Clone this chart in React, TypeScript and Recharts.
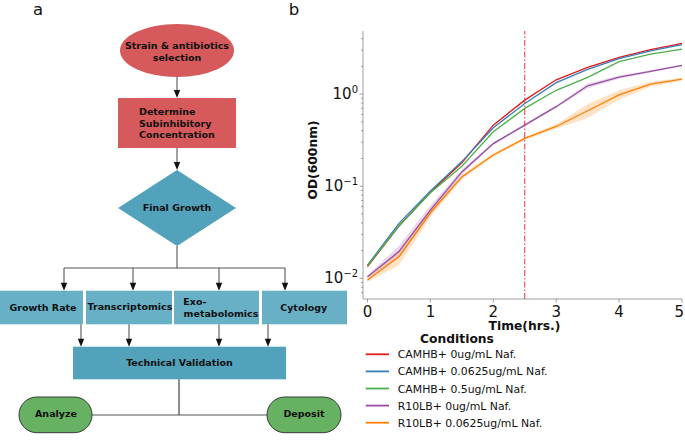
import React from 'react';
import { ComposedChart, Line, Area, XAxis, YAxis, ReferenceLine } from 'recharts';

// growth curves, OD600 on log scale
const time = [0, 0.5, 1, 1.5, 2, 2.5, 3, 3.5, 4, 4.5, 5];
const camhb0 = [0.0134, 0.037, 0.086, 0.18, 0.46, 0.86, 1.43, 1.95, 2.5, 3.03, 3.56];
const camhb0625 = [0.0139, 0.0395, 0.089, 0.185, 0.43, 0.79, 1.33, 1.85, 2.43, 2.95, 3.45];
const camhb05 = [0.0137, 0.037, 0.085, 0.165, 0.39, 0.7, 1.1, 1.52, 2.25, 2.72, 3.08];
const r10lb0 = [0.0104, 0.0195, 0.055, 0.143, 0.29, 0.46, 0.73, 1.23, 1.53, 1.76, 2.05];
const r10lb0625 = [0.0096, 0.0171, 0.0515, 0.126, 0.218, 0.33, 0.445, 0.66, 0.98, 1.28, 1.45];

// confidence bands
const r10lb0Lo = [0.01, 0.0167, 0.049, 0.135, 0.28, 0.445, 0.71, 1.16, 1.47, 1.71, 2.01];
const r10lb0Hi = [0.0108, 0.0225, 0.062, 0.151, 0.3, 0.475, 0.75, 1.3, 1.59, 1.81, 2.09];
const r10lb0625Lo = [0.0091, 0.0139, 0.046, 0.118, 0.208, 0.318, 0.42, 0.55, 0.87, 1.2, 1.4];
const r10lb0625Hi = [0.0101, 0.0203, 0.057, 0.134, 0.228, 0.342, 0.47, 0.78, 1.1, 1.36, 1.5];

const seriesNames = [
  'CAMHB+ 0ug/mL Naf.',
  'CAMHB+ 0.0625ug/mL Naf.',
  'CAMHB+ 0.5ug/mL Naf.',
  'R10LB+ 0ug/mL Naf.',
  'R10LB+ 0.0625ug/mL Naf.',
];
const seriesKeys = ['s0', 's1', 's2', 's3', 's4'];
const colors = ['#e41a1c', '#377eb8', '#4daf4a', '#984ea3', '#ff7f00'];

const xTicks = [0, 1, 2, 3, 4, 5];
const yMajor = [0.01, 0.1, 1];
const yMinor = [0.007, 0.008, 0.009, 0.02, 0.03, 0.04, 0.05, 0.06, 0.07, 0.08, 0.09, 0.2, 0.3, 0.4, 0.5, 0.6, 0.7, 0.8, 0.9, 2, 3, 4];
const yTicks = [...yMinor, ...yMajor].sort((a, b) => a - b);

const rows = time.map((t, i) => ({
  t,
  s0: camhb0[i],
  s1: camhb0625[i],
  s2: camhb05[i],
  s3: r10lb0[i],
  s4: r10lb0625[i],
  b3: [r10lb0Lo[i], r10lb0Hi[i]],
  b4: [r10lb0625Lo[i], r10lb0625Hi[i]],
}));

const FONT = '"DejaVu Sans", sans-serif';
const AXIS = '#888';

const YTick = (props: any) => {
  const { x, y, payload } = props;
  const lg = Math.log10(payload.value);
  const exp = Math.round(lg);
  const major = Math.abs(lg - exp) < 1e-6;
  return (
    <g>
      <line x1={x - (major ? 3.5 : 2)} x2={x} y1={y} y2={y} stroke={AXIS} strokeWidth={0.8} />
      {major && (
        <text x={x - 5} y={y + 5} textAnchor="end" fontSize={15} fontFamily={FONT} fill="#111">
          10
          <tspan dy={-6} fontSize={10}>{exp < 0 ? `\u2212${-exp}` : String(exp)}</tspan>
        </text>
      )}
    </g>
  );
};

const XTick = (props: any) => {
  const { x, y, payload } = props;
  const last = payload.value === xTicks[xTicks.length - 1];
  return (
    <text
      x={last ? 684 : x}
      y={y + 11}
      textAnchor={last ? 'end' : 'middle'}
      fontSize={15}
      fontFamily={FONT}
      fill="#111"
    >
      {payload.value}
    </text>
  );
};

const YLabel = (props: any) => {
  const vb = props.viewBox || { x: 303, y: 31, width: 60, height: 268 };
  const cx = vb.x + 10;
  const cy = vb.y + vb.height / 2 - 5;
  return (
    <text
      transform={`translate(${cx},${cy}) rotate(-90)`}
      textAnchor="middle"
      dominantBaseline="central"
      fontSize={12.3}
      fontWeight="bold"
      fontFamily={FONT}
      fill="#111"
    >
      OD(600nm)
    </text>
  );
};

const RED = '#d65a5c';
const TEAL = '#52a2bb';
const LTEAL = '#67b0c6';
const GREEN = '#67b163';

const Arrow = ({ x, y1, y2 }: { x: number; y1: number; y2: number }) => (
  <g>
    <line x1={x} x2={x} y1={y1} y2={y2 - 7} stroke="#555" strokeWidth={1.1} />
    <polygon points={`${x - 3.2},${y2 - 8} ${x + 3.2},${y2 - 8} ${x},${y2}`} fill="#111" />
  </g>
);

const Label = ({ x, y, children, anchor = 'middle' }: any) => (
  <text x={x} y={y + 3.4} textAnchor={anchor} fontSize={9.5} fontWeight="bold" fontFamily={FONT} fill="#111">
    {children}
  </text>
);

const Flowchart = () => {
  const boxes = [
    { x0: 0, x1: 83, lines: [['Growth Rate', 43, 307.5, 'middle']] },
    { x0: 86, x1: 172, lines: [['Transcriptomics', 130, 307, 'middle']] },
    { x0: 174, x1: 259, lines: [['Exo-', 183.3, 301.7, 'start'], ['metabolomics', 221, 313.3, 'middle']] },
    { x0: 262, x1: 347, lines: [['Cytology', 303.7, 307.3, 'middle']] },
  ];
  return (
    <g>
      <text x={38} y={15} textAnchor="middle" fontSize={16.5} fontFamily={FONT} fill="#111">a</text>
      <text x={294} y={15} textAnchor="middle" fontSize={16.5} fontFamily={FONT} fill="#111">b</text>

      <ellipse cx={177} cy={50.5} rx={57} ry={26.5} fill={RED} />
      <Label x={177} y={46}>Strain &amp; antibiotics</Label>
      <Label x={177} y={57.5}>selection</Label>
      <Arrow x={177} y1={77} y2={98} />

      <rect x={118} y={98} width={118} height={50} fill={RED} />
      <Label x={139} y={112} anchor="start">Determine</Label>
      <Label x={139} y={123.5} anchor="start">Subinhibitory</Label>
      <Label x={139} y={135} anchor="start">Concentration</Label>
      <Arrow x={177} y1={148} y2={170} />

      <polygon points="177,170 236,208 177,246 118,208" fill={TEAL} />
      <Label x={177} y={208}>Final Growth</Label>

      <line x1={177} x2={177} y1={246} y2={268} stroke="#555" strokeWidth={1.1} />
      <line x1={64} x2={285} y1={268} y2={268} stroke="#555" strokeWidth={1.1} />
      {[64, 133, 219, 285].map((x) => (
        <Arrow key={x} x={x} y1={268} y2={290.7} />
      ))}

      {boxes.map((b, i) => (
        <g key={i}>
          <rect x={b.x0} y={290.7} width={b.x1 - b.x0} height={33.6} fill={LTEAL} />
          {b.lines.map((l: any, j: number) => (
            <Label key={j} x={l[1]} y={l[2]} anchor={l[3]}>{l[0]}</Label>
          ))}
        </g>
      ))}
      {[81, 129, 219, 268].map((x) => (
        <Arrow key={x} x={x} y1={324.3} y2={346.7} />
      ))}

      <rect x={73} y={346.7} width={213} height={32.6} fill={TEAL} />
      <Label x={179.5} y={363}>Technical Validation</Label>

      <line x1={179} x2={179} y1={379.3} y2={415} stroke="#333" strokeWidth={1.1} />
      <line x1={92} x2={267} y1={415} y2={415} stroke="#555" strokeWidth={1.1} />

      <rect x={19} y={397} width={73} height={35.7} rx={17.8} fill={GREEN} stroke="#3a3a3a" strokeWidth={1} />
      <Label x={56} y={414}>Analyze</Label>
      <rect x={267} y={397} width={74} height={35.7} rx={17.8} fill={GREEN} stroke="#3a3a3a" strokeWidth={1} />
      <Label x={304} y={414}>Deposit</Label>
    </g>
  );
};

const LegendBox = () => (
  <g fontFamily={FONT}>
    <text x={457} y={343.3} textAnchor="middle" fontSize={12.3} fontWeight="bold" fill="#111">
      Conditions
    </text>
    {seriesNames.map((n, i) => {
      const cy = 354.3 + i * 17.1;
      return (
        <g key={n}>
          <line x1={365.7} x2={389} y1={cy} y2={cy} stroke={colors[i]} strokeWidth={1.8} />
          <text x={397.7} y={cy + 4} fontSize={10.9} fill="#111">
            {n}
          </text>
        </g>
      );
    })}
  </g>
);

export default function App() {
  return (
    <div style={{ position: 'relative', width: 685, height: 442, background: '#fff' }}>
      <style>{`body{margin:0}`}</style>
      <svg width={685} height={442} style={{ position: 'absolute', left: 0, top: 0 }}>
        <Flowchart />
        <LegendBox />
      </svg>
      <div style={{ position: 'absolute', left: 0, top: 0 }}>
        <ComposedChart width={685} height={442} data={rows} margin={{ top: 31, right: 3, left: 303, bottom: 103 }}>
          <XAxis
            dataKey="t"
            type="number"
            domain={[0, 5]}
            ticks={xTicks}
            interval={0}
            padding={{ left: 4.5, right: 0 }}
            axisLine={{ stroke: AXIS, strokeWidth: 0.8 }}
            tickLine={{ stroke: AXIS, strokeWidth: 0.8 }}
            tickSize={3.5}
            tickMargin={3}
            tick={<XTick />}
            height={40}
            label={{
              value: 'Time(hrs.)',
              position: 'insideBottom',
              offset: 9,
              dx: 2,
              fontSize: 12.3,
              fontWeight: 'bold',
              fontFamily: FONT,
              fill: '#111',
            }}
          />
          <YAxis
            scale="log"
            type="number"
            domain={[0.00693, 4.84]}
            allowDataOverflow
            ticks={yTicks}
            interval={0}
            padding={{ top: 0, bottom: 6 }}
            width={60}
            axisLine={{ stroke: AXIS, strokeWidth: 0.8 }}
            tickLine={false}
            tickSize={0}
            tickMargin={0}
            tick={<YTick />}
            label={<YLabel />}
          />
          <Area dataKey="b3" fill={colors[3]} fillOpacity={0.22} stroke="none" isAnimationActive={false} />
          <Area dataKey="b4" fill={colors[4]} fillOpacity={0.22} stroke="none" isAnimationActive={false} />
          {seriesKeys.map((k, i) => (
            <Line
              key={k}
              type="linear"
              dataKey={k}
              stroke={colors[i]}
              strokeWidth={1.3}
              dot={false}
              isAnimationActive={false}
            />
          ))}
          <ReferenceLine x={2.5} stroke="#f0303a" strokeWidth={1} strokeDasharray="6 2 1.5 2" />
        </ComposedChart>
      </div>
    </div>
  );
}
